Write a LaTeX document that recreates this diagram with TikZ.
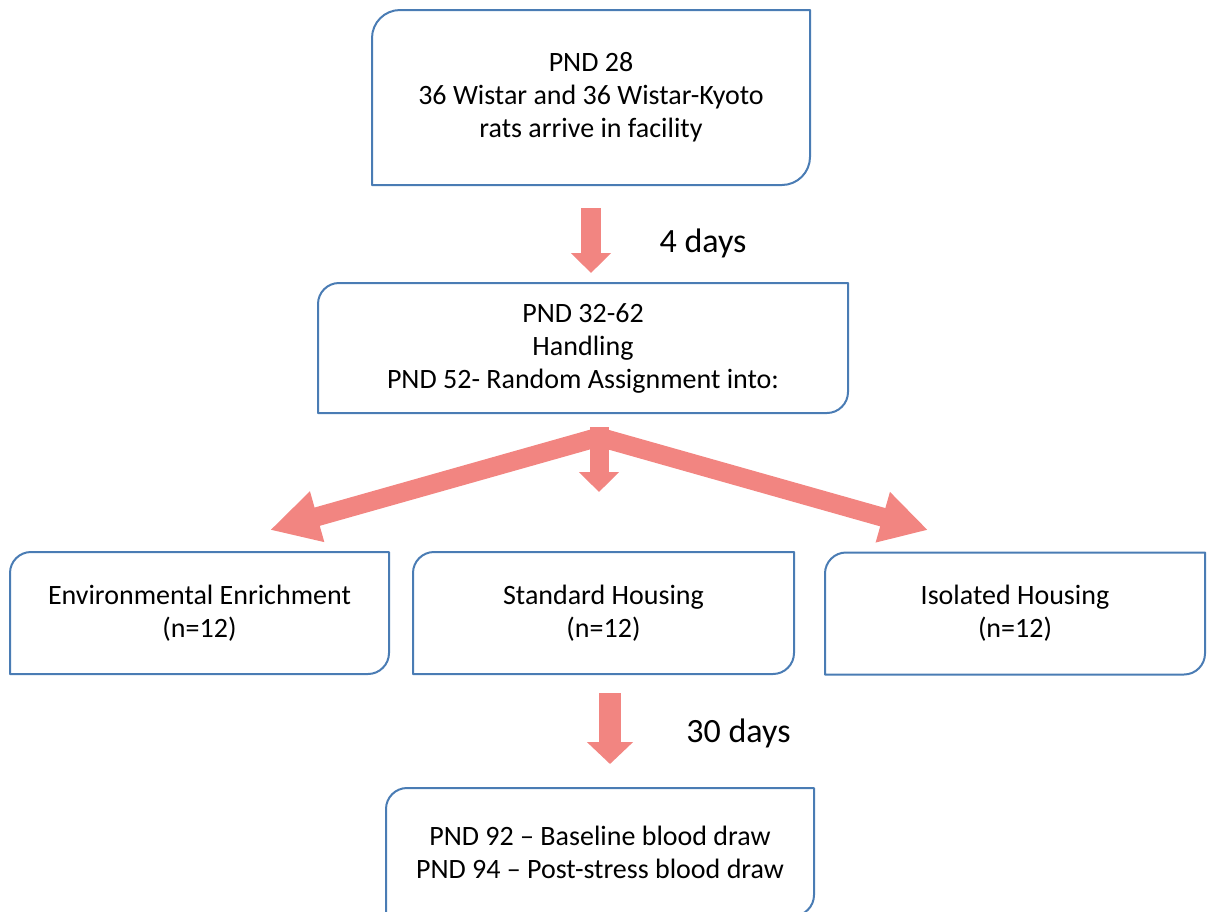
\documentclass[tikz,border=0pt]{standalone}
\usepackage{fontspec}
\setmainfont{Carlito}
\usetikzlibrary{arrows.meta,calc}
\definecolor{boxc}{HTML}{4A7CB4}
\definecolor{arrc}{HTML}{F28581}
\tikzset{
  box/.style={inner sep=0pt, outer sep=0pt, align=center,
    font=\fontsize{28}{33}\selectfont},
  boxline/.style={draw=boxc, line width=2pt, line join=round},
  fat/.style={draw=arrc, line width=#1, line cap=butt, line join=miter},
  lbl/.style={inner sep=0pt, font=\fontsize{34}{40}\selectfont},
}
\newcommand{\rbox}[2]{%
  \draw[boxline] (#1.south west)
    -- ([yshift=-#2]#1.north west)
    .. controls ([yshift={-0.45*#2}]#1.north west) and ([xshift={0.45*#2}]#1.north west) ..
    ([xshift=#2]#1.north west)
    -- (#1.north east)
    -- ([yshift=#2]#1.south east)
    .. controls ([yshift={0.45*#2}]#1.south east) and ([xshift={-0.45*#2}]#1.south east) ..
    ([xshift=-#2]#1.south east)
    -- cycle;}
\begin{document}
\begin{tikzpicture}[x=1pt,y=-1pt]
\useasboundingbox (0,0) rectangle (1209,911);
% boxes
\node[box, minimum width=438pt, minimum height=175pt] (b1) at (591,97.5)
  {PND 28\\36 Wistar and 36 Wistar-Kyoto\\rats arrive in facility};
\node[box, minimum width=530pt, minimum height=130pt] (b2) at (583,348)
  {PND 32-62\\Handling\\PND 52- Random Assignment into:};
\node[box, minimum width=379pt, minimum height=122pt] (b3) at (199.5,613)
  {Environmental Enrichment\\(n=12)};
\node[box, minimum width=381pt, minimum height=122pt] (b4) at (603.5,613)
  {Standard Housing\\(n=12)};
\node[box, minimum width=380pt, minimum height=122pt] (b5) at (1015,613.5)
  {Isolated Housing\\(n=12)};
\node[box, minimum width=428pt, minimum height=128pt] (b6) at (600,852)
  {PND 92 -- Baseline blood draw\\PND 94 -- Post-stress blood draw};
\rbox{b1}{28pt}
\rbox{b2}{21pt}
\rbox{b3}{21pt}
\rbox{b4}{21pt}
\rbox{b5}{21pt}
\rbox{b6}{21pt}
% labels
\node[lbl] (d1) at (703,243) {4 days};
\node[lbl] (d2) at (738.5,733) {30 days};
% arrows
\draw[fat=20pt, -{Triangle[length=20pt,width=39pt]}]
  ([yshift=-23pt]b1.south) -- ([yshift=10pt]b1.south |- b2.north);
\coordinate (fa) at (599,437);
\coordinate (tl) at (270,530);
\coordinate (tr) at (928,530);
\draw[fat=19pt, {Triangle[length=49pt,width=49pt]}-{Triangle[length=47pt,width=49pt]}]
  (tl) -- (fa) -- (tr);
\draw[fat=19pt, -{Triangle[length=20pt,width=39pt]}]
  ([yshift=10pt]fa) -- ([yshift=60pt]fa |- b4.north);
\draw[fat=22pt, -{Triangle[length=22pt,width=45pt]}]
  ([yshift=-19pt]b4.south -| 610,0) -- ([yshift=24pt]b6.north -| 610,0);
\end{tikzpicture}
\end{document}
